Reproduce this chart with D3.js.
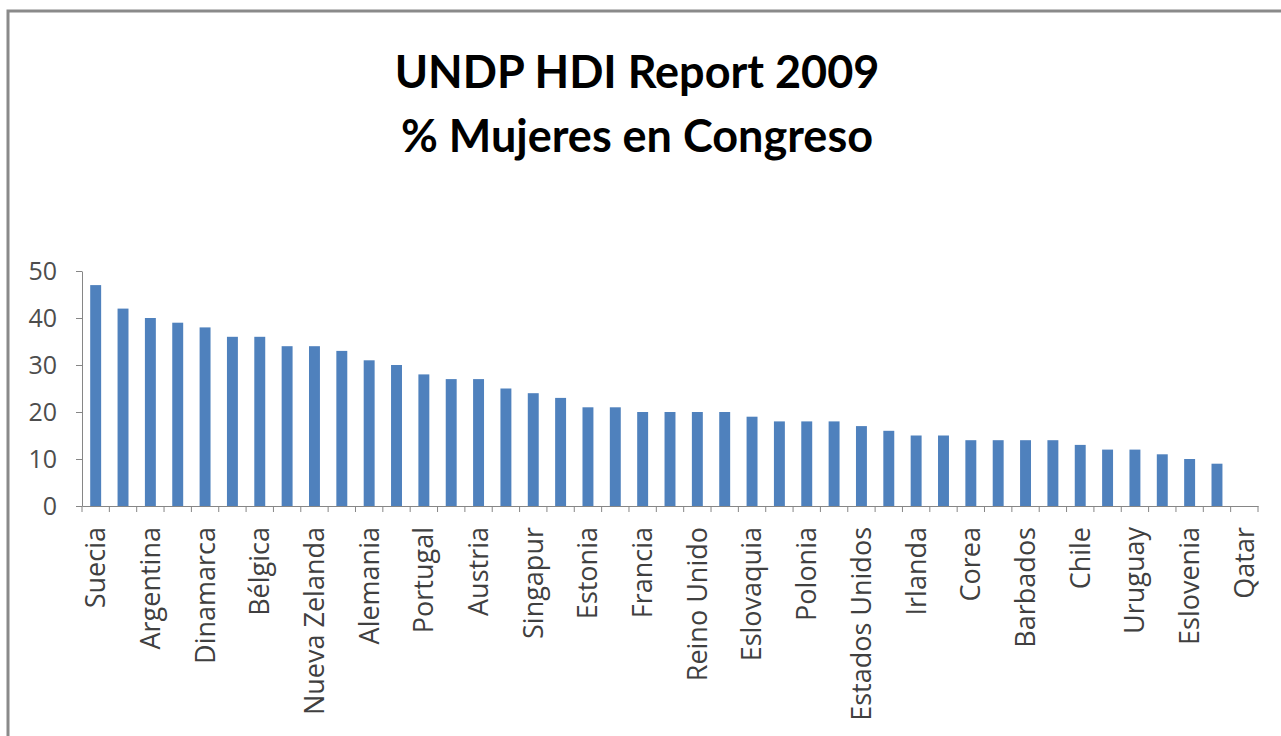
<!DOCTYPE html>
<html>
<head>
<meta charset="utf-8">
<script src="https://cdn.jsdelivr.net/npm/d3@7"></script>
<style>
  html, body { margin: 0; padding: 0; background: #ffffff; }
  svg { display: block; }
</style>
</head>
<body>
<svg id="chart" width="1281" height="736"></svg>
<script>
// ---- data ----
const titleLines = ["UNDP HDI Report 2009", "% Mujeres en Congreso"];
const categories = [
  "Suecia", "Finlandia", "Argentina", "Holanda", "Dinamarca", "España",
  "Bélgica", "Noruega", "Nueva Zelanda", "Islandia", "Alemania", "Suiza",
  "Portugal", "Australia", "Austria", "Canadá", "Singapur", "Luxemburgo",
  "Estonia", "Lituania", "Francia", "Italia", "Reino Unido", "Letonia",
  "Eslovaquia", "Israel", "Polonia", "República Checa", "Estados Unidos", "Croacia",
  "Irlanda", "Grecia", "Corea", "Chipre", "Barbados", "Bahamas",
  "Chile", "Japón", "Uruguay", "Hungría", "Eslovenia", "Malta", "Qatar"
];
const values = [
  47, 42, 40, 39, 38, 36,
  36, 34, 34, 33, 31, 30,
  28, 27, 27, 25, 24, 23,
  21, 21, 20, 20, 20, 20,
  19, 18, 18, 18, 17, 16,
  15, 15, 14, 14, 14, 14,
  13, 12, 12, 11, 10, 9, 0
];
const yTickValues = [0, 10, 20, 30, 40, 50];
const shownLabels = categories.filter((d, i) => i % 2 === 0);

// ---- layout ----
const svg = d3.select("#chart");
const plot = { left: 82, right: 1258, top: 271, bottom: 506 };
const gray = "#868686";

// frame
svg.append("rect")
  .attr("x", 8).attr("y", 11)
  .attr("width", 1300).attr("height", 760)
  .attr("fill", "#ffffff")
  .attr("stroke", "#8a8a8a").attr("stroke-width", 3);

// title
[titleLines[0], titleLines[1]].forEach((t, i) => {
  svg.append("text")
    .attr("x", 637).attr("y", i === 0 ? 88 : 152)
    .attr("text-anchor", "middle")
    .attr("font-family", "Lato, 'Open Sans', sans-serif")
    .attr("font-weight", "bold")
    .attr("font-size", 45)
    .attr("fill", "#000")
    .text(t);
});

const pad = 0.6;
const x = d3.scaleBand()
  .domain(categories)
  .range([plot.left, plot.right])
  .paddingInner(pad)
  .paddingOuter(pad / 2);

const y = d3.scaleLinear()
  .domain([0, 50])
  .range([plot.bottom, plot.top]);

// bars
svg.append("g")
  .selectAll("rect")
  .data(categories)
  .join("rect")
  .attr("x", d => x(d))
  .attr("y", (d, i) => y(values[i]))
  .attr("width", x.bandwidth())
  .attr("height", (d, i) => y(0) - y(values[i]))
  .attr("fill", "#4F81BD");

// y axis
const yAxis = svg.append("g")
  .attr("transform", `translate(${plot.left},0)`)
  .call(d3.axisLeft(y).tickValues(yTickValues).tickSize(6).tickPadding(19).tickSizeOuter(0));
yAxis.select(".domain").attr("stroke", gray);
yAxis.selectAll(".tick line").attr("stroke", gray);
yAxis.selectAll(".tick text")
  .attr("font-family", "'Open Sans', sans-serif")
  .attr("font-size", 25)
  .attr("fill", "#4d4d4d");

// x axis
const xAxis = svg.append("g")
  .attr("transform", `translate(0,${plot.bottom})`)
  .call(d3.axisBottom(x).tickValues(shownLabels).tickSize(0).tickSizeOuter(0).tickPadding(20));
xAxis.select(".domain").attr("stroke", gray);
xAxis.selectAll(".tick text")
  .attr("font-family", "'Open Sans', sans-serif")
  .attr("font-size", 27)
  .attr("fill", "#404040")
  .attr("text-anchor", "end")
  .attr("transform", "rotate(-90)")
  .attr("x", -21)
  .attr("y", 0)
  .attr("dy", "0.35em");

// category boundary ticks
const step = x.step();
const boundaries = categories.map(d => x(d) - step * pad / 2).concat([plot.right]);
svg.append("g")
  .selectAll("line")
  .data(boundaries)
  .join("line")
  .attr("x1", d => d).attr("x2", d => d)
  .attr("y1", plot.bottom).attr("y2", plot.bottom + 6)
  .attr("stroke", gray);
</script>
</body>
</html>
